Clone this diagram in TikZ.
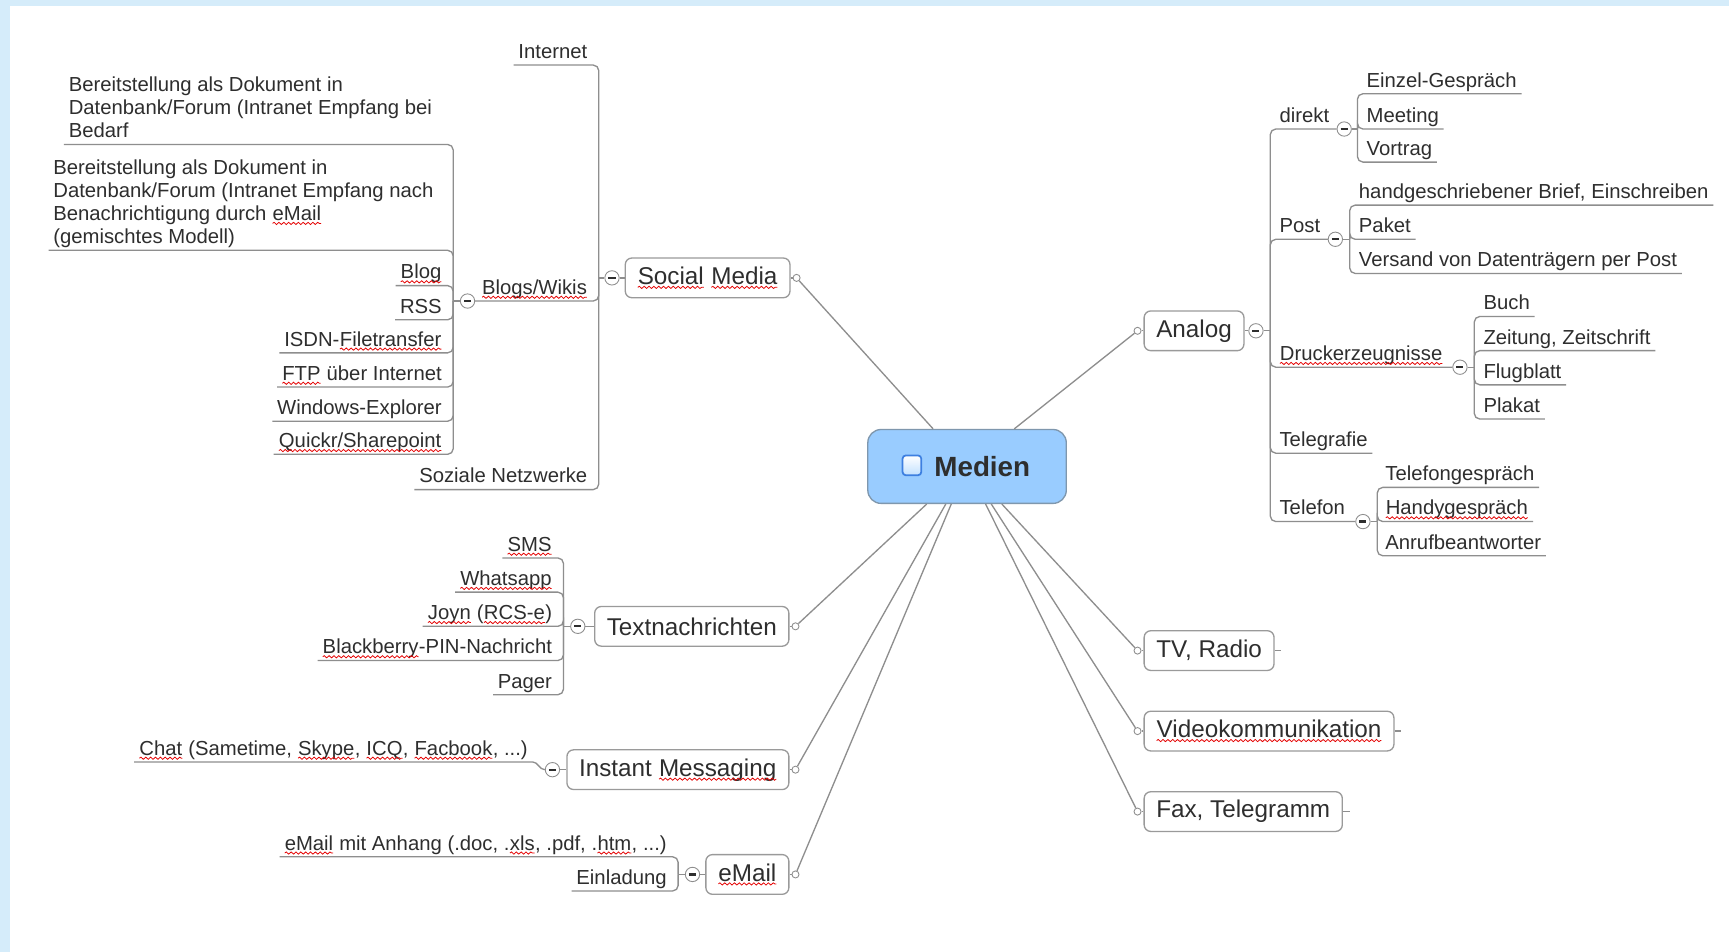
\documentclass[tikz,border=0pt]{standalone}
\usepackage{fontspec}
\setmainfont{Liberation Sans}
\usetikzlibrary{positioning,decorations.pathmorphing}

\definecolor{txt}{HTML}{2E2E2E}
\definecolor{lineclr}{HTML}{8E8E8E}
\definecolor{boxline}{HTML}{9A9A9A}
\definecolor{rootfill}{HTML}{99CCFF}
\definecolor{rootline}{HTML}{7F97AD}
\definecolor{bgblue}{HTML}{D5ECFA}
\definecolor{chkblue}{HTML}{3D7FE0}

% red wavy spell-check underline
\newcommand\wv[1]{\tikz[baseline=(w.base), sharp corners, line width=0.35pt]{\node[anchor=base, inner sep=0pt, outer sep=0pt, text depth=0pt, draw=none, fill=none, minimum size=0pt] (w) at (0,0) {#1};
  \draw[red!90!black, sharp corners, line width=0.35pt, decorate, decoration={snake, amplitude=0.5pt, segment length=2.2pt}] ([yshift=-1.3pt]w.base west) -- ([yshift=-1.3pt]w.base east);}}

\begin{document}
\begin{tikzpicture}[x=0.5pt, y=-0.5pt, text=txt,
  root/.style={draw=rootline, fill=rootfill, rounded corners=6pt, minimum width=90pt, minimum height=33.5pt, line width=0.6pt},
  topic/.style={draw=boxline, fill=white, rounded corners=3pt, minimum height=18pt, inner xsep=5.5pt, inner ysep=0pt,
    font=\fontsize{11}{13}\selectfont, line width=0.6pt},
  sub/.style={inner xsep=2pt, inner ysep=0.8pt, text depth=2pt, font=\fontsize{9.2}{10.5}\selectfont},
  tog/.style={circle, draw=lineclr, fill=white, minimum size=6.5pt, inner sep=0pt,
    path picture={\draw[txt, line width=1pt] ([xshift=-1.6pt]path picture bounding box.center) -- ([xshift=1.6pt]path picture bounding box.center);}},
  knob/.style={circle, draw=lineclr, fill=white, minimum size=3.2pt, inner sep=0pt},
  link/.style={draw=lineclr, line width=0.6pt},
  bracket/.style={link, rounded corners=2.5pt}
]
\fill[bgblue] (0,0) rectangle (1568,863);
\fill[white] (9,5.5) rectangle (1568,863);
\useasboundingbox (0,0) rectangle (1568,863);

% central topic
\node[root] (med) at (877,423) {};
\node[draw=chkblue, rounded corners=1.5pt, line width=0.8pt, minimum width=8.5pt, minimum height=9pt, inner sep=0pt,
  top color=white, bottom color=rootfill!60] (chk) at (827,422) {};
\node[font=\bfseries\fontsize{12.6}{14}\selectfont, anchor=west, inner sep=0pt] (medt) at (847,423) {Medien};

% main topics
\node[topic, anchor=east] (sm) at (717,252) {\wv{Social} \wv{Media}};
\node[topic, anchor=east] (tn) at (716,568) {Textnachrichten};
\node[topic, anchor=east] (im) at (716,698) {Instant \wv{Messaging}};
\node[topic, anchor=east] (em) at (716,793) {\wv{eMail}};
\node[topic, anchor=west] (an) at (1037,300) {Analog};
\node[topic, anchor=west] (tv) at (1037,590) {TV, Radio};
\node[topic, anchor=west] (vk) at (1037,663) {\wv{Videokommunikation}};
\node[topic, anchor=west] (fx) at (1037,736) {Fax, Telegramm};

\foreach \t in {sm,tn,im,em} {
  \node[knob, right=0.9pt of \t] (\t k) {};
  \draw[link] (\t) -- (\t k);
  \draw[link] (med) -- (\t k);
}
\foreach \t in {an,tv,vk,fx} {
  \node[knob, left=0.9pt of \t] (\t k) {};
  \draw[link] (\t) -- (\t k);
  \draw[link] (med) -- (\t k);
}
\foreach \t in {tv,vk,fx}
  \draw[link] (\t.east) -- ++(3pt,0);

% collapse buttons and brackets
\node[tog] (smt) at (555,252) {};
\node[tog] (tnt) at (524,568) {};
\node[tog] (imt) at (501,698) {};
\node[tog] (emt) at (628,793) {};
\node[tog] (ant) at (1139,300) {};
\draw[link] (smt) -- (sm);
\draw[link] (tnt) -- (tn);
\draw[link] (imt) -- (im);
\draw[link] (emt) -- (em);
\draw[link] (ant) -- (an);
\coordinate (smb) at ([xshift=-6pt]smt.center);
\coordinate (tnb) at ([xshift=-6.5pt]tnt.center);
\coordinate (emb) at ([xshift=-6.5pt]emt.center);
\coordinate (anb) at ([xshift=6.5pt]ant.center);
\draw[link] (smt.west) -- (smb);
\draw[link] (tnt.west) -- (tnb);
\draw[link] (emt.west) -- (emb);
\draw[link] (ant.east) -- (anb);

% Social Media
\node[sub, anchor=south east] (inet) at (537,59) {Internet};
\node[sub, anchor=south east] (bw) at (537,273) {\wv{Blogs/Wikis}};
\node[sub, anchor=south east] (sn) at (537,444) {Soziale Netzwerke};
\node[tog] (bwt) at (424,273) {};
\coordinate (bwb) at ([xshift=-6.5pt]bwt.center);
\draw[bracket] (smb) |- (inet.south west);
\draw[bracket] (smb) |- (bwt.east);
\draw[bracket] (smb) |- (sn.south west);
\draw[link] (bwt.west) -- (bwb);

\node[sub, anchor=south west, align=left] (doc1) at (58,131) {Bereitstellung als Dokument in\\Datenbank/Forum (Intranet Empfang bei\\Bedarf};
\node[sub, anchor=south west, align=left] (doc2) at (44,227) {Bereitstellung als Dokument in\\Datenbank/Forum (Intranet Empfang nach\\Benachrichtigung durch \wv{eMail}\\(gemischtes Modell)};
\node[sub, anchor=south east] (blog) at (405,259) {\wv{Blog}};
\node[sub, anchor=south east] (rss) at (405,290) {RSS};
\node[sub, anchor=south east] (isdn) at (405,320) {ISDN-\wv{Filetransfer}};
\node[sub, anchor=south east] (ftp) at (405,351) {\wv{FTP} über Internet};
\node[sub, anchor=south east] (win) at (405,382) {Windows-Explorer};
\node[sub, anchor=south east] (qs) at (405,412) {\wv{Quickr/Sharepoint}};
\foreach \n in {doc1,doc2,blog,rss,isdn,ftp,win,qs}
  \draw[bracket] (bwb) |- (\n.south west);

% Textnachrichten
\node[sub, anchor=south east] (sms) at (505,506) {\wv{SMS}};
\node[sub, anchor=south east] (wa) at (505,537) {\wv{Whatsapp}};
\node[sub, anchor=south east] (joyn) at (505,568) {\wv{Joyn} (\wv{RCS-e})};
\node[sub, anchor=south east] (bb) at (505,599) {\wv{Blackberry}-PIN-Nachricht};
\node[sub, anchor=south east] (pag) at (505,630) {Pager};
\foreach \n in {sms,wa,joyn,bb,pag}
  \draw[bracket] (tnb) |- (\n.south west);

% Instant Messaging
\node[sub, anchor=south east] (chat) at (483,691) {\wv{Chat} (Sametime, \wv{Skype}, \wv{ICQ}, \wv{Facbook}, ...)};
\draw[link] (chat.south west) -- (chat.south east) to[out=0, in=180] (imt.west);

% eMail
\node[sub, anchor=south east] (att) at (609,777) {\wv{eMail} mit Anhang (.doc, .\wv{xls}, .pdf, .\wv{htm}, ...)};
\node[sub, anchor=south east] (inv) at (609,808) {Einladung};
\foreach \n in {att,inv}
  \draw[bracket] (emb) |- (\n.south west);

% Analog
\node[sub, anchor=south west] (dir) at (1156,117) {direkt};
\node[sub, anchor=south west] (post) at (1156,217) {Post};
\node[sub, anchor=south west] (druck) at (1156,333) {\wv{Druckerzeugnisse}};
\node[sub, anchor=south west] (tgr) at (1156,411) {Telegrafie};
\node[sub, anchor=south west] (tel) at (1156,473) {Telefon};
\node[tog] (dirt) at (1219,117) {};
\node[tog] (postt) at (1211,217) {};
\node[tog] (druckt) at (1324,333) {};
\node[tog] (telt) at (1236,473) {};
\foreach \n in {dirt,postt,druckt,telt}
  \draw[bracket] (anb) |- (\n.west);
\draw[bracket] (anb) |- (tgr.south east);
\coordinate (dirb) at ([xshift=6pt]dirt.center);
\coordinate (postb) at ([xshift=6.5pt]postt.center);
\coordinate (druckb) at ([xshift=6.5pt]druckt.center);
\coordinate (telb) at ([xshift=6.5pt]telt.center);
\draw[link] (dirt.east) -- (dirb);
\draw[link] (postt.east) -- (postb);
\draw[link] (druckt.east) -- (druckb);
\draw[link] (telt.east) -- (telb);

\node[sub, anchor=south west] (einz) at (1235,85) {Einzel-Gespräch};
\node[sub, anchor=south west] (meet) at (1235,117) {Meeting};
\node[sub, anchor=south west] (vort) at (1235,147) {Vortrag};
\foreach \n in {einz,meet,vort}
  \draw[bracket] (dirb) |- (\n.south east);

\node[sub, anchor=south west] (brief) at (1228,186) {handgeschriebener Brief, Einschreiben};
\node[sub, anchor=south west] (pak) at (1228,217) {Paket};
\node[sub, anchor=south west] (vers) at (1228,248) {Versand von Datenträgern per Post};
\foreach \n in {brief,pak,vers}
  \draw[bracket] (postb) |- (\n.south east);

\node[sub, anchor=south west] (buch) at (1341,287) {Buch};
\node[sub, anchor=south west] (zeit) at (1341,318) {Zeitung, Zeitschrift};
\node[sub, anchor=south west] (flug) at (1341,349) {Flugblatt};
\node[sub, anchor=south west] (plak) at (1341,380) {Plakat};
\foreach \n in {buch,zeit,flug,plak}
  \draw[bracket] (druckb) |- (\n.south east);

\node[sub, anchor=south west] (tgs) at (1252,442) {Telefongespräch};
\node[sub, anchor=south west] (handy) at (1252,473) {\wv{Handygespräch}};
\node[sub, anchor=south west] (ab) at (1252,504) {Anrufbeantworter};
\foreach \n in {tgs,handy,ab}
  \draw[bracket] (telb) |- (\n.south east);
\end{tikzpicture}
\end{document}
